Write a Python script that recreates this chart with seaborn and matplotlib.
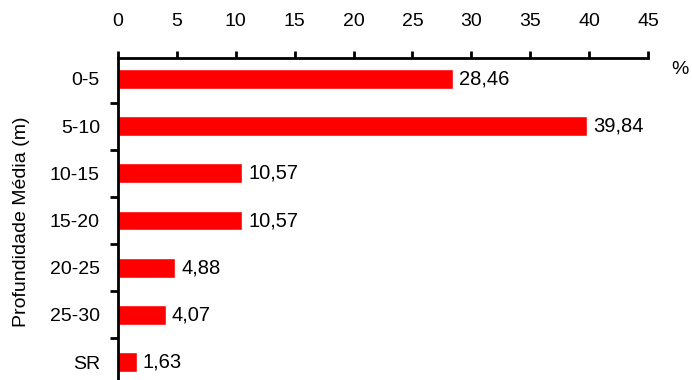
import matplotlib
matplotlib.use("Agg")
import matplotlib.pyplot as plt
import seaborn as sns
import pandas as pd
from matplotlib.ticker import FixedLocator

categories = ["0-5", "5-10", "10-15", "15-20", "20-25", "25-30", "SR"]
values = [28.46, 39.84, 10.57, 10.57, 4.88, 4.07, 1.63]
xticks = [0, 5, 10, 15, 20, 25, 30, 35, 40, 45]

sns.set_style("white")
plt.rcParams["font.family"] = ["Liberation Sans", "DejaVu Sans"]
plt.rcParams["text.color"] = "black"
plt.rcParams["axes.labelcolor"] = "black"
plt.rcParams["xtick.color"] = "black"
plt.rcParams["ytick.color"] = "black"

df = pd.DataFrame({"cat": categories, "val": values})

fig = plt.figure(figsize=(6.92, 3.8), dpi=100)
ax = fig.add_axes([118/692, 1 - 385.6/380, (648-118)/692, (385.6-58)/380])
sns.barplot(data=df, x="val", y="cat", orient="h", color="#ff0000",
            saturation=1, width=0.42, ax=ax)

ax.set_xlim(0, 45)
ax.set_ylim(6.5, -0.445)
ax.xaxis.tick_top()
ax.set_xticks(xticks)
ax.set_xticklabels([str(t) for t in xticks])
ax.tick_params(axis="x", direction="out", length=5, width=2, pad=15,
               labelsize=14, colors="black", top=True, bottom=False)
ax.tick_params(axis="y", which="major", length=0, pad=13, labelsize=14,
               colors="black")
ax.yaxis.set_minor_locator(FixedLocator([i + 0.5 for i in range(len(categories) - 1)]))
ax.tick_params(axis="y", which="minor", direction="out", length=6, width=2,
               left=True, color="black")

for s in ["right", "bottom"]:
    ax.spines[s].set_visible(False)
for s in ["top", "left"]:
    ax.spines[s].set_visible(True)
    ax.spines[s].set_linewidth(2)
    ax.spines[s].set_color("black")

ax.set_xlabel("")
ax.set_ylabel("Profundidade Média (m)", fontsize=14, labelpad=14, color="black")

labels = [f"{v:.2f}".replace(".", ",") for v in values]
ax.bar_label(ax.containers[0], labels=labels, padding=4, fontsize=14.5,
             color="black")

fig.text(680/692, 1 - 70/380, "%", fontsize=14, ha="center", va="center",
         color="black")

fig.savefig("out.png", dpi=100)
